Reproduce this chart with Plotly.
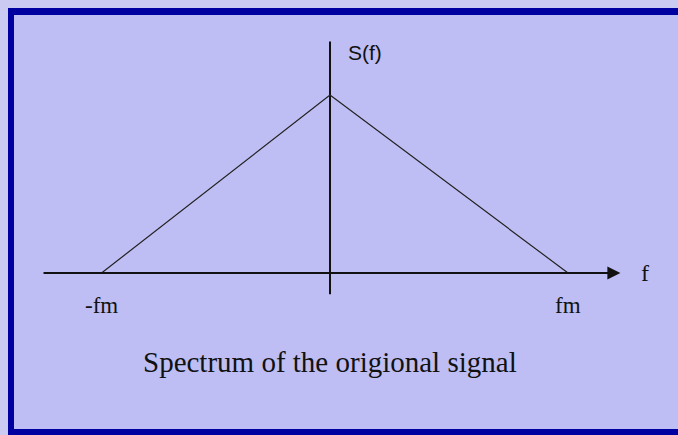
import plotly.graph_objects as go

# spectrum triangle, frequency in units of fm, amplitude normalised
freq = [-0.96, 0, 1.0]
spectrum = [0, 1, 0]

# axis extents
f_axis = [-1.21, 1.22]
s_axis = [-0.12, 1.30]

# labels
f_ticks = [-0.96, 1.0]
f_tick_text = ["-fm", "fm"]
x_label = "f"
y_label = "S(f)"
caption = "Spectrum of the origional signal"

W, H = 678, 435
bg = "#BEBEF4"
frame = "#0000A0"

fig = go.Figure()

# vertical axis
fig.add_trace(go.Scatter(
    x=[0, 0], y=s_axis, mode="lines",
    line=dict(color="#111111", width=2),
    showlegend=False, hoverinfo="skip"
))

# the triangle
fig.add_trace(go.Scatter(
    x=freq, y=spectrum, mode="lines",
    line=dict(color="#222222", width=1.2),
    showlegend=False, hoverinfo="skip"
))

# horizontal axis with arrow
fig.add_annotation(
    x=f_axis[1], y=0, ax=f_axis[0], ay=0,
    xref="x", yref="y", axref="x", ayref="y",
    showarrow=True, arrowhead=2, arrowsize=1.3, arrowwidth=2,
    arrowcolor="#111111", text=""
)

serif = "Liberation Serif"
for fx, txt in zip(f_ticks, f_tick_text):
    fig.add_annotation(x=fx, y=-0.18, text=txt, showarrow=False,
                       xanchor="center", yanchor="middle",
                       font=dict(family=serif, size=23, color="#111111"))

fig.add_annotation(x=1.325, y=0.0, text=x_label, showarrow=False,
                   xanchor="center", yanchor="middle",
                   font=dict(family=serif, size=24, color="#111111"))

fig.add_annotation(x=0.148, y=1.24, text=y_label, showarrow=False,
                   xanchor="center", yanchor="middle",
                   font=dict(family="Liberation Sans", size=21, color="#111111"))

fig.add_annotation(x=0.0, y=-0.50, text=caption, showarrow=False,
                   xanchor="center", yanchor="middle",
                   font=dict(family=serif, size=29, color="#111111"))

# pixel-based ranges: f=0 at x=330 px, 238 px per fm; S=0 at y=273 px, 178 px per unit
fig.update_xaxes(range=[-330 / 238, (W - 330) / 238], visible=False, fixedrange=True)
fig.update_yaxes(range=[-(H - 273) / 178, 273 / 178], visible=False, fixedrange=True)

# frame
fig.add_shape(type="rect", xref="paper", yref="paper",
              x0=8 / W, x1=1.01, y0=-0.01, y1=1 - 8 / H,
              fillcolor=frame, line=dict(width=0), layer="below")
fig.add_shape(type="rect", xref="paper", yref="paper",
              x0=14 / W, x1=1.01, y0=6 / H, y1=1 - 15 / H,
              fillcolor=bg, line=dict(width=0), layer="below")

fig.update_layout(
    width=W, height=H, autosize=False,
    margin=dict(l=0, r=0, t=0, b=0),
    paper_bgcolor="#CACAF2",
    plot_bgcolor="rgba(0,0,0,0)",
)

fig.write_html(
    "out.html",
    config={"displayModeBar": False},
    post_script="document.body.style.margin='0';document.body.style.overflow='hidden';",
)
